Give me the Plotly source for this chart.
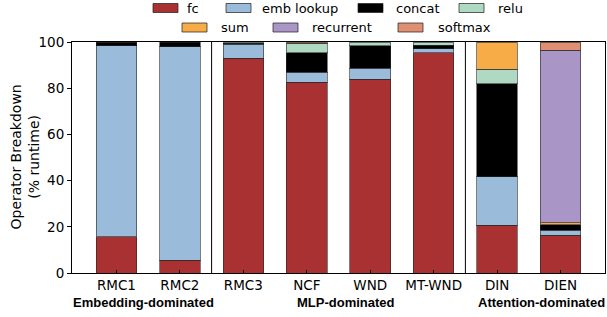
import plotly.graph_objects as go

models = ["RMC1", "RMC2", "RMC3", "NCF", "WND", "MT-WND", "DIN", "DIEN"]
ops = ["fc", "emb lookup", "concat", "relu", "sum", "recurrent", "softmax"]

fc = [15.8, 5.6, 92.9, 82.5, 83.8, 95.4, 20.6, 16.3]
emb_lookup = [82.6, 92.4, 6.1, 4.5, 4.8, 1.6, 21.0, 2.3]
concat = [1.4, 2.0, 0.5, 8.4, 9.8, 1.7, 40.4, 2.2]
relu = [0.2, 0, 0.5, 4.0, 1.6, 1.3, 6.3, 0]
sum_op = [0, 0, 0, 0.6, 0, 0, 11.7, 1.0]
recurrent = [0, 0, 0, 0, 0, 0, 0, 74.7]
softmax = [0, 0, 0, 0, 0, 0, 0, 3.5]

groups = ["Embedding-dominated", "MLP-dominated", "Attention-dominated"]
y_ticks = [0, 20, 40, 60, 80, 100]

series = [fc, emb_lookup, concat, relu, sum_op, recurrent, softmax]
colors = ["#A93131", "#9ABBD9", "#000000", "#B0D9C4", "#F8AC48", "#A995C6", "#E09072"]

W, H = 607, 317
L, R, T, B = 72, 2, 42, 44
pw, ph = W - L - R, H - T - B

def px(x):
    return (x - L) / pw

def py(y):
    return (H - B - y) / ph

fig = go.Figure()
xs = list(range(len(models)))
for name, vals, col in zip(ops, series, colors):
    fig.add_trace(go.Bar(
        x=xs, y=[v if v > 0 else None for v in vals], name=name,
        marker=dict(color=col, line=dict(color="rgba(40,40,40,0.6)", width=1)),
        width=0.64, showlegend=False,
    ))

shapes = []
for xv in [1.5, 5.5]:
    shapes.append(dict(type="line", xref="x", yref="paper", x0=xv, x1=xv, y0=0, y1=1,
                       line=dict(color="black", width=1)))

# manual legend
leg_rows = [
    [(153, 185), (226, 260), (358, 394), (459, 496)],
    [(182, 219), (273, 310), (398, 436)],
]
leg_y = [8, 27.5]
annotations = []
k = 0
for r, row in enumerate(leg_rows):
    for (sx, tx) in row:
        cy = leg_y[r]
        shapes.append(dict(type="rect", xref="paper", yref="paper",
                           x0=px(sx), x1=px(sx + 25), y0=py(cy - 4.5), y1=py(cy + 4.5),
                           fillcolor=colors[k], line=dict(color="rgba(30,30,30,0.7)", width=1)))
        annotations.append(dict(xref="paper", yref="paper", x=px(tx), y=py(cy), text=ops[k],
                                showarrow=False, xanchor="left", yanchor="middle",
                                font=dict(family="DejaVu Sans", size=13, color="black")))
        k += 1

group_x = [143, 346, 541]
for g, gx in zip(groups, group_x):
    annotations.append(dict(xref="paper", yref="paper", x=px(gx), y=py(302), text=g,
                            showarrow=False, xanchor="center", yanchor="middle",
                            font=dict(family="Liberation Sans", size=13, color="black", weight="bold")))

# y-axis title
annotations.append(dict(xref="paper", yref="paper", x=px(24), y=0.5,
                        text="Operator Breakdown<br>(% runtime)", textangle=-90,
                        showarrow=False, xanchor="center", yanchor="middle",
                        font=dict(family="DejaVu Sans", size=14, color="black")))

fig.update_layout(
    width=W, height=H,
    margin=dict(l=L, r=R, t=T, b=B, pad=0),
    barmode="stack",
    plot_bgcolor="white", paper_bgcolor="white",
    font=dict(family="DejaVu Sans", size=13.5, color="black"),
    shapes=shapes, annotations=annotations,
    xaxis=dict(range=[-0.7, 7.7], tickmode="array", tickvals=xs, ticktext=models,
               showline=True, linecolor="black", linewidth=1, mirror=True,
               ticks="inside", ticklen=3, tickcolor="black", showgrid=False, zeroline=False,
               tickfont=dict(size=13.5)),
    yaxis=dict(range=[0, 100], tickvals=y_ticks, showline=True, linecolor="black",
               linewidth=1, mirror=True, ticks="outside", ticklen=4, tickcolor="black",
               showgrid=False, zeroline=False, tickfont=dict(size=13.5)),
)

fig.write_html("out.html", config={"displayModeBar": False},
               post_script="document.body.style.margin='0';document.body.style.padding='0';")
